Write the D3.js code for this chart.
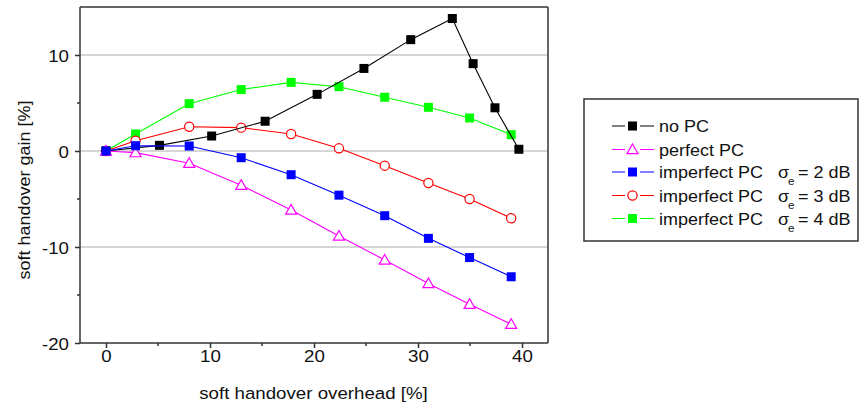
<!DOCTYPE html>
<html>
<head>
<meta charset="utf-8">
<script src="https://cdn.jsdelivr.net/npm/d3@7"></script>
<style>
html,body{margin:0;padding:0;background:#fff;}
svg{display:block;font-family:"Liberation Sans",Arial,sans-serif;}
</style>
</head>
<body>
<svg id="chart" width="867" height="408"></svg>
<script>
// ---- data ----
const xTicks = [0, 10, 20, 30, 40];
const yTicks = [-20, -10, 0, 10];
const noPcX = [0, 5.14, 10.16, 15.3, 20.3, 24.8, 29.3, 33.3, 35.3, 37.4, 39.7];
const noPcY = [0, 0.59, 1.56, 3.1, 5.9, 8.6, 11.6, 13.8, 9.1, 4.5, 0.18];
const pcX = [0, 2.84, 8.0, 13.0, 17.8, 22.4, 26.8, 31.0, 34.96, 38.96];
const perfectY = [0, -0.17, -1.28, -3.57, -6.15, -8.85, -11.35, -13.8, -15.97, -18.05];
const imp2Y = [0, 0.55, 0.52, -0.7, -2.47, -4.6, -6.74, -9.1, -11.1, -13.1];
const imp3Y = [0, 1.07, 2.53, 2.43, 1.77, 0.28, -1.53, -3.33, -5.0, -7.0];
const imp4Y = [0, 1.77, 4.93, 6.4, 7.15, 6.7, 5.6, 4.55, 3.44, 1.7];
const seriesNames = ["no PC", "perfect PC", "imperfect PC", "imperfect PC", "imperfect PC"];
const sigmaLabels = ["", "", "= 2 dB", "= 3 dB", "= 4 dB"];
const xTitle = "soft handover overhead [%]";
const yTitle = "soft handover gain [%]";

const series = [
  {name: seriesNames[0], sigma: sigmaLabels[0], xs: noPcX, ys: noPcY, color: "#000000", marker: "square"},
  {name: seriesNames[1], sigma: sigmaLabels[1], xs: pcX, ys: perfectY, color: "#ff00ff", marker: "triangle"},
  {name: seriesNames[2], sigma: sigmaLabels[2], xs: pcX, ys: imp2Y, color: "#0000ff", marker: "square"},
  {name: seriesNames[3], sigma: sigmaLabels[3], xs: pcX, ys: imp3Y, color: "#ff0000", marker: "circle"},
  {name: seriesNames[4], sigma: sigmaLabels[4], xs: pcX, ys: imp4Y, color: "#00ff00", marker: "square"}
];

const FS = 17, SX = 1.1, LSX = 1.06;
const svg = d3.select("#chart");
const L = 80, R = 548, T = 7, B = 343;
const x = d3.scaleLinear().domain([-2.5, 42.5]).range([L, R]);
const y = d3.scaleLinear().domain([-20, 15]).range([B, T]);
const axisColor = "#333";
const txtColor = "#111";

// gridlines
svg.append("g").selectAll("line").data(yTicks.filter(d => d > -20)).join("line")
  .attr("x1", L).attr("x2", R).attr("y1", d => y(d)).attr("y2", d => y(d))
  .attr("stroke", "#d6d6d6").attr("stroke-width", 1.8);

// frame top & right
svg.append("line").attr("x1", L).attr("x2", R).attr("y1", T).attr("y2", T).attr("stroke", axisColor).attr("stroke-width", 1.5);
svg.append("line").attr("x1", R).attr("x2", R).attr("y1", T).attr("y2", B).attr("stroke", axisColor).attr("stroke-width", 1.5);

// axes
const fmt = d => String(d);
const xAxis = d3.axisBottom(x).tickValues(xTicks).tickSize(5).tickPadding(2).tickFormat(fmt);
const gx = svg.append("g").attr("transform", `translate(0,${B})`).call(xAxis);
const yAxis = d3.axisLeft(y).tickValues(yTicks).tickSize(5).tickPadding(6).tickFormat(fmt);
const gy = svg.append("g").attr("transform", `translate(${L},0)`).call(yAxis);
[gx, gy].forEach(g => {
  g.select(".domain").remove();
  g.selectAll(".tick line").attr("stroke", axisColor).attr("stroke-width", 1.5);
  g.selectAll(".tick text").attr("fill", txtColor).attr("font-size", FS)
    .attr("font-family", "Liberation Sans, Arial, sans-serif");
});
gx.selectAll(".tick text").attr("transform", `scale(${SX},1)`);
gy.selectAll(".tick text").attr("x", -11 / SX).attr("transform", `scale(${SX},1)`).attr("dy", "0.36em");

// minor ticks
const xMinor = [5, 15, 25, 35];
const yMinor = [-15, -5, 5];
svg.append("g").selectAll("line").data(xMinor).join("line")
  .attr("x1", d => x(d)).attr("x2", d => x(d)).attr("y1", B).attr("y2", B + 3)
  .attr("stroke", axisColor).attr("stroke-width", 1.5);
svg.append("g").selectAll("line").data(yMinor).join("line")
  .attr("x1", L - 3).attr("x2", L).attr("y1", d => y(d)).attr("y2", d => y(d))
  .attr("stroke", axisColor).attr("stroke-width", 1.5);
// bottom & left axis lines
svg.append("line").attr("x1", L).attr("x2", R).attr("y1", B).attr("y2", B).attr("stroke", axisColor).attr("stroke-width", 1.5);
svg.append("line").attr("x1", L).attr("x2", L).attr("y1", T).attr("y2", B).attr("stroke", axisColor).attr("stroke-width", 1.5);

// titles
svg.append("text").attr("transform", `translate(313.5,399) scale(${SX},1)`).attr("text-anchor", "middle")
  .attr("font-size", FS).attr("fill", txtColor).text(xTitle);
svg.append("text").attr("transform", `translate(30,190) rotate(-90) scale(1.06,1)`).attr("text-anchor", "middle")
  .attr("font-size", FS).attr("fill", txtColor).text(yTitle);

function drawMarker(g, type, cx, cy, color) {
  if (type === "square") {
    g.append("rect").attr("x", cx - 4.5).attr("y", cy - 4.5).attr("width", 9).attr("height", 9).attr("fill", color);
  } else if (type === "circle") {
    g.append("circle").attr("cx", cx).attr("cy", cy).attr("r", 4.6).attr("fill", "#fff").attr("stroke", color).attr("stroke-width", 1.2);
  } else {
    const s = 5.5;
    g.append("path").attr("d", `M${cx},${cy - s}L${cx + s},${cy + s * 0.75}L${cx - s},${cy + s * 0.75}Z`)
      .attr("fill", "#fff").attr("stroke", color).attr("stroke-width", 1.2);
  }
}

const line = d3.line().x(d => x(d[0])).y(d => y(d[1]));
// draw order: bottom to top
const order = [4, 3, 0, 1, 2];
order.forEach(i => {
  const s = series[i];
  const pts = s.xs.map((v, j) => [v, s.ys[j]]);
  const g = svg.append("g");
  g.append("path").datum(pts).attr("d", line).attr("fill", "none").attr("stroke", s.color).attr("stroke-width", 1.1);
  pts.forEach(p => drawMarker(g, s.marker, x(p[0]), y(p[1]), s.color));
});

// legend
const lg = svg.append("g");
lg.append("rect").attr("x", 584).attr("y", 99).attr("width", 274).attr("height", 142)
  .attr("fill", "#fff").attr("stroke", axisColor).attr("stroke-width", 1.5);
const rowY = [126, 149.5, 172, 195.5, 218.5];
series.forEach((s, i) => {
  const yy = rowY[i];
  lg.append("line").attr("x1", 612).attr("x2", 654).attr("y1", yy).attr("y2", yy).attr("stroke", s.color).attr("stroke-width", 1.1);
  lg.append("rect").attr("x", 625).attr("y", yy - 6).attr("width", 15).attr("height", 12).attr("fill", "#fff");
  drawMarker(lg, s.marker, 632.5, yy, s.color);
  lg.append("text").attr("transform", `translate(659,${yy + 6}) scale(${LSX},1)`)
    .attr("font-size", FS).attr("fill", txtColor).text(s.name);
  if (s.sigma) {
    lg.append("text").attr("transform", `translate(778,${yy + 6}) scale(${LSX},1)`)
      .attr("font-size", FS).attr("fill", txtColor).text("σ");
    lg.append("text").attr("transform", `translate(788,${yy + 13}) scale(${LSX},1)`)
      .attr("font-size", 11).attr("fill", txtColor).text("e");
    lg.append("text").attr("transform", `translate(798,${yy + 6}) scale(${LSX},1)`)
      .attr("font-size", FS).attr("fill", txtColor).text(s.sigma);
  }
});
</script>
</body>
</html>
